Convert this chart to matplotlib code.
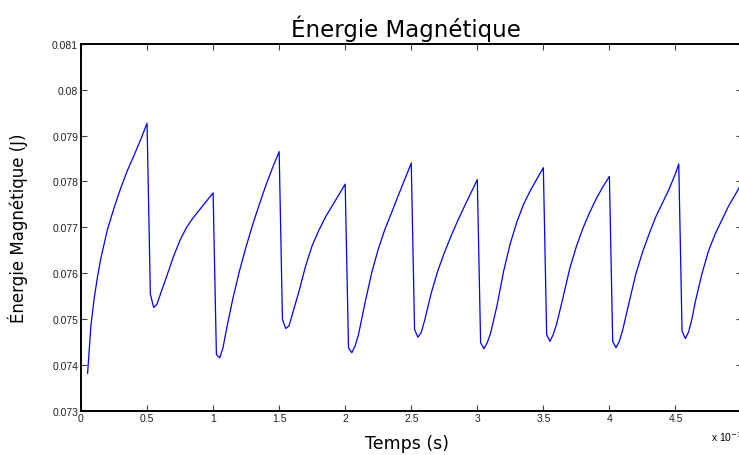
import matplotlib
matplotlib.use('Agg')
import matplotlib.pyplot as plt
from matplotlib.ticker import FuncFormatter

# temps en unites de 1e-3 s, energie en J
temps = [0.05, 0.075, 0.1, 0.125, 0.15, 0.2, 0.25, 0.3, 0.35, 0.4, 0.45, 0.5,
         0.525, 0.55, 0.575, 0.6, 0.65, 0.7, 0.75, 0.8, 0.85, 0.9, 0.95, 1.0,
         1.025, 1.05, 1.075, 1.1, 1.15, 1.2, 1.25, 1.3, 1.35, 1.4, 1.45, 1.5,
         1.525, 1.55, 1.575, 1.6, 1.65, 1.7, 1.75, 1.8, 1.85, 1.9, 1.95, 2.0,
         2.025, 2.05, 2.075, 2.1, 2.15, 2.2, 2.25, 2.3, 2.35, 2.4, 2.45, 2.5,
         2.525, 2.55, 2.575, 2.6, 2.65, 2.7, 2.75, 2.8, 2.85, 2.9, 2.95, 3.0,
         3.025, 3.05, 3.075, 3.1, 3.15, 3.2, 3.25, 3.3, 3.35, 3.4, 3.45, 3.5,
         3.525, 3.55, 3.575, 3.6, 3.65, 3.7, 3.75, 3.8, 3.85, 3.9, 3.95, 4.0,
         4.025, 4.05, 4.075, 4.1, 4.15, 4.2, 4.25, 4.3, 4.35, 4.4, 4.45, 4.5, 4.525,
         4.55, 4.575, 4.6, 4.625, 4.65, 4.7, 4.75, 4.8, 4.85, 4.9, 4.95, 5.0]
energie = [0.07381, 0.07485, 0.07545, 0.07592, 0.07632, 0.07695, 0.07742, 0.07785, 0.07823, 0.07856, 0.07890, 0.07927,
           0.07554, 0.07525, 0.07532, 0.07553, 0.07594, 0.07636, 0.07672, 0.07700, 0.07721, 0.07739, 0.07757, 0.07775,
           0.07422, 0.07415, 0.07437, 0.07475, 0.07545, 0.07605, 0.07658, 0.07706, 0.07750, 0.07792, 0.07830, 0.07865,
           0.07499, 0.07479, 0.07485, 0.07510, 0.07560, 0.07615, 0.07660, 0.07693, 0.07722, 0.07746, 0.07770, 0.07794,
           0.07437, 0.07426, 0.07441, 0.07465, 0.07535, 0.07600, 0.07652, 0.07695, 0.07731, 0.07768, 0.07804, 0.07840,
           0.07477, 0.07460, 0.07470, 0.07495, 0.07555, 0.07604, 0.07644, 0.07680, 0.07713, 0.07744, 0.07774, 0.07804,
           0.07448, 0.07435, 0.07448, 0.07468, 0.07530, 0.07605, 0.07665, 0.07712, 0.07750, 0.07779, 0.07805, 0.07830,
           0.07466, 0.07451, 0.07466, 0.07488, 0.07548, 0.07610, 0.07658, 0.07698, 0.07732, 0.07762, 0.07788, 0.07811,
           0.07451, 0.07437, 0.07451, 0.07475, 0.07537, 0.07598, 0.07645, 0.07685, 0.07722, 0.07752, 0.07782, 0.07817, 0.07838,
           0.07473, 0.07457, 0.07472, 0.07500, 0.07537, 0.07598, 0.07648, 0.07685, 0.07715, 0.07745, 0.07770, 0.07795]

xticks = [0, 0.5, 1, 1.5, 2, 2.5, 3, 3.5, 4, 4.5, 5]
yticks = [0.073, 0.074, 0.075, 0.076, 0.077, 0.078, 0.079, 0.08, 0.081]

fig = plt.figure(figsize=(7.39, 4.56), dpi=100)
ax = fig.add_axes([81 / 739, 1 - 411.5 / 456, 660.5 / 739, 366.5 / 456])

ax.plot(temps, energie, color='blue', linewidth=0.9)
ax.set_xlim(0, 5)
ax.set_ylim(0.073, 0.081)
ax.set_xticks(xticks)
ax.set_yticks(yticks)
fmt = FuncFormatter(lambda v, p: '%g' % v)
ax.xaxis.set_major_formatter(fmt)
ax.yaxis.set_major_formatter(fmt)

ax.tick_params(direction='in', top=True, right=True, length=4, width=0.8,
               color='#444444', labelsize=7.5, pad=2)
for lab in ax.get_xticklabels() + ax.get_yticklabels():
    lab.set_family('Liberation Sans')
    lab.set_color('#222222')
for s in ax.spines.values():
    s.set_linewidth(1.4)

ax.set_title('Énergie Magnétique', fontsize=16.5, pad=6, x=(406 - 81) / 660.5)
ax.set_xlabel('Temps (s)', fontsize=12.5, labelpad=8, x=(407 - 81) / 660.5)
ax.set_ylabel('Énergie Magnétique (J)', fontsize=12, labelpad=17)

fig.text(711 / 739, 1 - 437 / 456, r'x 10$^{-3}$', fontsize=7.5,
         family='Liberation Sans', va='center', ha='left')

fig.savefig('out.png', dpi=100)
